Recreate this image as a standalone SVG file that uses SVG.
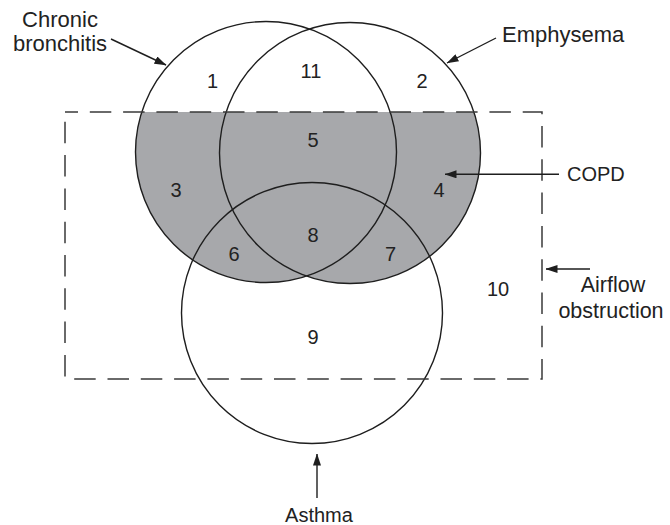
<svg xmlns="http://www.w3.org/2000/svg" width="670" height="525" viewBox="0 0 670 525">
  <style>
    .outline { fill: none; stroke: #1e1e1e; stroke-width: 1.4; }
    .shade { fill: #a7a8ab; stroke: none; }
    .dash { fill: none; stroke: #3a3a3a; stroke-width: 1.5; stroke-dasharray: 21.5 11.8; stroke-dashoffset: 8.5; }
    .lbl { font-family: "Liberation Sans", Arial, sans-serif; fill: #222; }
    .num { font-family: "Liberation Sans", Arial, sans-serif; font-size: 20px; fill: #222; text-anchor: middle; }
    .conn { fill: none; stroke: #1e1e1e; stroke-width: 1.4; }
  </style>
  <defs>
    <marker id="arrow" markerUnits="userSpaceOnUse" markerWidth="12" markerHeight="8" refX="11.5" refY="4" orient="auto">
      <path d="M0,0 L12,4 L0,8 z" fill="#1e1e1e"/>
    </marker>
    <clipPath id="rectClip">
      <rect x="65" y="112" width="477" height="267"/>
    </clipPath>
  </defs>
  <rect x="0" y="0" width="670" height="525" fill="#ffffff"/>

  <g id="copd-shading" clip-path="url(#rectClip)">
    <circle class="shade" cx="266" cy="152" r="130.5"/>
    <circle class="shade" cx="350" cy="153" r="130.5"/>
  </g>

  <g id="chronic-bronchitis">
    <circle class="outline" cx="266" cy="152" r="130.5"/>
    <text class="lbl" font-size="22" text-anchor="middle" x="60" y="27">Chronic</text>
    <text class="lbl" font-size="22" text-anchor="middle" x="60" y="51">bronchitis</text>
  </g>

  <g id="emphysema">
    <circle class="outline" cx="350" cy="153" r="130.5"/>
    <text class="lbl" font-size="22" x="502" y="42">Emphysema</text>
  </g>

  <g id="asthma">
    <circle class="outline" cx="312" cy="313" r="130.5"/>
    <text class="lbl" font-size="20" text-anchor="middle" x="319" y="522">Asthma</text>
  </g>

  <g id="airflow-obstruction">
    <path class="dash" d="M65,112 H542 V379 H65 Z"/>
    <text class="lbl" font-size="21.5" text-anchor="middle" x="613" y="292">Airflow</text>
    <text class="lbl" font-size="21.5" text-anchor="middle" x="611" y="318">obstruction</text>
  </g>

  <g id="copd">
    <text class="lbl" font-size="20" x="567" y="181">COPD</text>
  </g>

  <g id="region-numbers">
    <text class="num" x="212.5" y="88">1</text>
    <text class="num" x="311" y="78">11</text>
    <text class="num" x="422" y="88">2</text>
    <text class="num" x="313" y="147">5</text>
    <text class="num" x="176" y="197">3</text>
    <text class="num" x="439" y="197">4</text>
    <text class="num" x="313" y="242">8</text>
    <text class="num" x="234" y="261">6</text>
    <text class="num" x="390.5" y="261">7</text>
    <text class="num" x="498" y="296">10</text>
    <text class="num" x="313" y="344">9</text>
  </g>

  <g id="connectors">
    <line class="conn" x1="111" y1="39" x2="166" y2="65" marker-end="url(#arrow)"/>
    <line class="conn" x1="496" y1="38" x2="447" y2="63" marker-end="url(#arrow)"/>
    <line class="conn" x1="559" y1="174.3" x2="445" y2="174.3" marker-end="url(#arrow)"/>
    <line class="conn" x1="590" y1="269" x2="546" y2="269" marker-end="url(#arrow)"/>
    <line class="conn" x1="317" y1="498" x2="317" y2="454" marker-end="url(#arrow)"/>
  </g>
</svg>
